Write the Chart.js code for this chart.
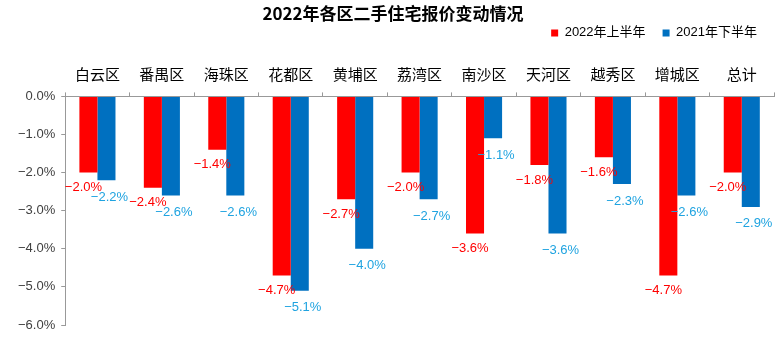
<!DOCTYPE html>
<html>
<head>
<meta charset="utf-8">
<script src="https://cdn.jsdelivr.net/npm/chart.js@4.4.1/dist/chart.umd.min.js"></script>
<style>
  html, body { margin: 0; padding: 0; background: #fff; }
  #wrap { width: 780px; height: 337px; position: relative; }
</style>
</head>
<body>
<div id="wrap"><canvas id="priceChart"></canvas></div>
<script>
// ------------------
// data
// ------------------
const districts = ["白云区", "番禺区", "海珠区", "花都区", "黄埔区", "荔湾区", "南沙区", "天河区", "越秀区", "增城区", "总计"];
const h1of2022 = [-2.0, -2.4, -1.4, -4.7, -2.7, -2.0, -3.6, -1.8, -1.6, -4.7, -2.0];
const h2of2021 = [-2.2, -2.6, -2.6, -5.1, -4.0, -2.7, -1.1, -3.6, -2.3, -2.6, -2.9];
const seriesNames = ["2022年上半年", "2021年下半年"];
const yTicks = [0, -1, -2, -3, -4, -5, -6];

const FONT = "'Liberation Sans', 'Noto Sans CJK SC', sans-serif";
const CJK = "'Noto Sans CJK SC', sans-serif";

function pct(v) {
  return (v < 0 ? "\u2212" : "") + Math.abs(v).toFixed(1) + "%";
}

// ------------------
// value labels under each bar end
// ------------------
const barLabels = {
  id: "barLabels",
  afterDatasetsDraw(chart) {
    const ctx = chart.ctx;
    const shifts = [{ dx: -5, dy: 15, color: "#ff0000" }, { dx: 3, dy: 17, color: "#1fa3e0" }];
    ctx.save();
    ctx.font = "13px " + FONT;
    ctx.textAlign = "center";
    ctx.textBaseline = "middle";
    chart.data.datasets.forEach((ds, i) => {
      const meta = chart.getDatasetMeta(i);
      const s = shifts[i];
      ctx.fillStyle = s.color;
      meta.data.forEach((bar, j) => {
        ctx.fillText(pct(ds.data[j]), bar.x + s.dx, bar.y + s.dy);
      });
    });
    ctx.restore();
  }
};

// ------------------
// chart setup
// ------------------
let chart;

function createChart() {
  const ctx = document.getElementById("priceChart");

  chart = new Chart(ctx, {
    type: "bar",
    data: {
      labels: districts,
      datasets: [{
        label: seriesNames[0],
        data: h1of2022,
        backgroundColor: "#ff0000"
      }, {
        label: seriesNames[1],
        data: h2of2021,
        backgroundColor: "#0070c0"
      }]
    },
    options: {
      responsive: true,
      maintainAspectRatio: false,
      animation: false,
      barPercentage: 1,
      categoryPercentage: 0.56,
      layout: { padding: { left: 12, right: 6, bottom: 12, top: 0 } },
      plugins: {
        title: {
          display: true,
          text: "2022年各区二手住宅报价变动情况",
          color: "#000",
          font: { family: CJK, size: 17, weight: "bold" },
          // pull the legend up close under the title
          padding: { top: 3, bottom: -14 }
        },
        legend: {
          position: "top",
          align: "end",
          labels: {
            boxWidth: 7,
            boxHeight: 7,
            padding: 17,
            color: "#000",
            font: { family: FONT, size: 13 }
          }
        },
        tooltip: { enabled: false }
      },
      scales: {
        x: {
          position: "top",
          grid: { drawOnChartArea: false, tickLength: 4, color: "#999", offset: true },
          border: { color: "#999" },
          ticks: { padding: 9, color: "#000", font: { family: CJK, size: 15 } },
          afterFit(axis) {
            axis.height += 7;
          }
        },
        y: {
          min: yTicks[yTicks.length - 1],
          max: yTicks[0],
          afterBuildTicks(axis) {
            axis.ticks = yTicks.map(v => ({ value: v }));
          },
          afterFit(axis) {
            // let the bottom label sit in the layout padding
            axis.paddingBottom = 0;
          },
          grid: { drawOnChartArea: false, tickLength: 4, color: "#999" },
          border: { color: "#999" },
          ticks: {
            padding: 6,
            color: "#404040",
            font: { family: FONT, size: 13 },
            callback: v => pct(v)
          }
        }
      }
    },
    plugins: [barLabels]
  });
}

window.onload = () => {
  createChart();
};
</script>
</body>
</html>
